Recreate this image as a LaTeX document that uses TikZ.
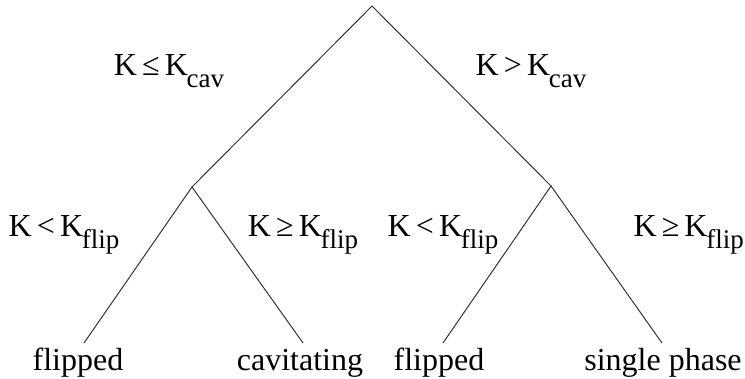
\documentclass[tikz,border=0pt]{standalone}
\usepackage{fontspec}
\setmainfont{Liberation Serif}
\newcommand\lowsub[1]{\hspace{-0.04em}\raisebox{-0.4em}{\fontsize{27}{28}\selectfont #1}}
\newcommand\tinygap{\hspace{0.16em}}
\begin{document}
\begin{tikzpicture}[x=1pt,y=-1pt,
  branch/.style={draw=black!80,line width=1pt},
  cond/.style={inner sep=0pt,anchor=base,font=\fontsize{32}{33}\selectfont},
  leaf/.style={inner sep=0pt,anchor=base,font=\fontsize{32}{33}\selectfont}]
\useasboundingbox (0,0) rectangle (745,378);
\coordinate (root) at (372,6);
\coordinate (L) at (192,187);
\coordinate (R) at (551,186);
\coordinate (LL) at (84,343);
\coordinate (LR) at (303,343);
\coordinate (RL) at (443,343);
\coordinate (RR) at (662,343);
\draw[branch] (L) -- (root) -- (R);
\draw[branch] (LL) -- (L) -- (LR);
\draw[branch] (RL) -- (R) -- (RR);
\node[cond] (c1) at (169,75) {K\tinygap≤\tinygap K\lowsub{cav}};
\node[cond] (c2) at (531,75) {K\tinygap>\tinygap K\lowsub{cav}};
\node[cond] (c3) at (64,236) {K\tinygap<\tinygap K\lowsub{flip}};
\node[cond] (c4) at (303,236) {K\tinygap≥\tinygap K\lowsub{flip}};
\node[cond] (c5) at (443,236) {K\tinygap<\tinygap K\lowsub{flip}};
\node[cond,anchor=base east] (c6) at (744,236) {K\tinygap≥\tinygap K\lowsub{flip}};
\node[leaf] (t1) at (78,370) {flipped};
\node[leaf] (t2) at (300,370) {cavitating};
\node[leaf] (t3) at (439,370) {flipped};
\node[leaf] (t4) at (663,370) {single phase};
\end{tikzpicture}
\end{document}
